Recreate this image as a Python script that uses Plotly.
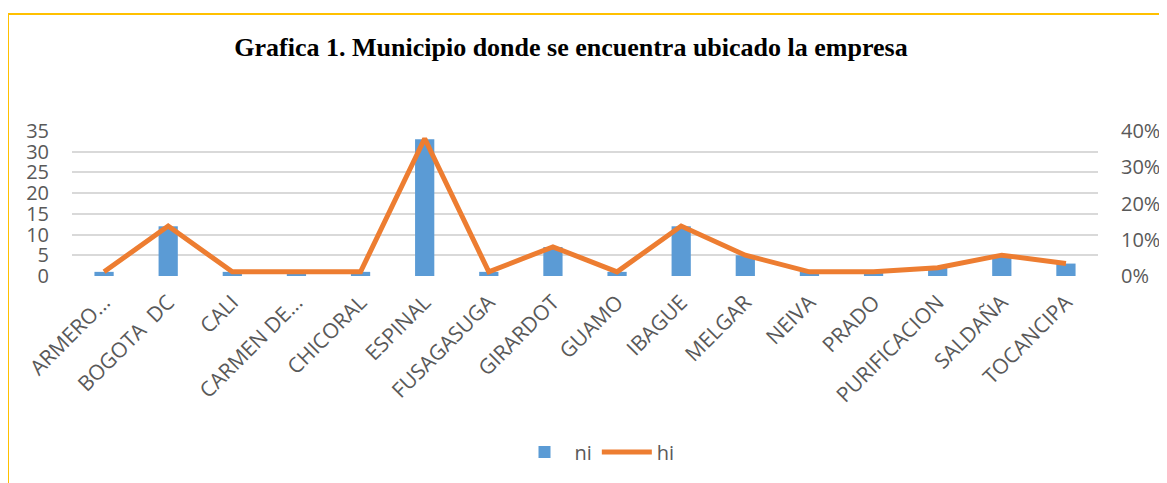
import plotly.graph_objects as go

categories = ["ARMERO...", "BOGOTA\u00a0 DC", "CALI", "CARMEN DE...", "CHICORAL", "ESPINAL",
              "FUSAGASUGA", "GIRARDOT", "GUAMO", "IBAGUE", "MELGAR", "NEIVA", "PRADO",
              "PURIFICACION", "SALDAÑA", "TOCANCIPA"]
ni = [1, 12, 1, 1, 1, 33, 1, 7, 1, 12, 5, 1, 1, 2, 5, 3]
hi = [0.0115, 0.1379, 0.0115, 0.0115, 0.0115, 0.3793, 0.0115, 0.0805, 0.0115, 0.1379,
      0.0575, 0.0115, 0.0115, 0.0230, 0.0575, 0.0345]
left_ticks = [0, 5, 10, 15, 20, 25, 30, 35]
right_ticks = [0, 0.1, 0.2, 0.3, 0.4]
right_labels = ["0%", "10%", "20%", "30%", "40%"]

OFF = 8  # page body margin
W, H = 1167 - OFF, 483 - OFF
L, R, T, B = 72 - OFF, 1098 - OFF, 131 - OFF, 276 - OFF
pw, ph = R - L, B - T

def px(x):
    return (x - OFF - L) / pw

def py(y):
    return (B - (y - OFF)) / ph

tick_font = dict(family="Open Sans", size=20, color="#595959")
xtick_font = dict(family="Open Sans", size=21, color="#595959")

fig = go.Figure()
fig.add_trace(go.Bar(x=categories, y=ni, name="ni", marker=dict(color="#5B9BD5", line=dict(width=0)),
                     yaxis="y"))
fig.add_trace(go.Scatter(x=categories, y=hi, name="hi", mode="lines",
                         line=dict(color="#ED7D31", width=5), yaxis="y2"))

border = dict(color="#FFC000", width=2)

fig.update_layout(
    width=W, height=H,
    template="none",
    paper_bgcolor="white", plot_bgcolor="white",
    margin=dict(l=L, r=W - R, t=T, b=H - B, autoexpand=False),
    bargap=0.7,
    title=dict(text="<b>Grafica 1. Municipio donde se encuentra ubicado la empresa</b>",
               font=dict(family="Liberation Serif", size=26, color="black"),
               x=px(571), xanchor="center", xref="paper", y=1 - (47 - OFF) / H, yanchor="middle",
               yref="container"),
    xaxis=dict(type="category", tickangle=-45, tickfont=xtick_font, showgrid=False,
               showline=False, ticks="", automargin=False, ticklabelstandoff=9),
    yaxis=dict(range=[0, 35], tickvals=left_ticks, tickfont=tick_font, showgrid=True,
               gridcolor="#D9D9D9", gridwidth=1.5, zeroline=False, showline=False,
               ticks="", automargin=False, ticklabelstandoff=22),
    yaxis2=dict(range=[0, 0.4], tickvals=right_ticks, ticktext=right_labels, tickfont=tick_font,
                overlaying="y", side="right", showgrid=False, zeroline=False, showline=False,
                ticks="", automargin=False, ticklabelstandoff=22),
    showlegend=True,
    legend=dict(orientation="h", x=px(597), xanchor="center", y=py(452), yanchor="middle",
                font=dict(family="Open Sans", size=20, color="#595959"), itemwidth=50,
                bgcolor="rgba(0,0,0,0)"),
    shapes=[
        dict(type="line", xref="paper", yref="paper", x0=px(8), x1=px(1200),
             y0=py(14), y1=py(14), line=border, layer="below"),
        dict(type="line", xref="paper", yref="paper", x0=px(8), x1=px(8),
             y0=py(14), y1=py(520), line=border, layer="below"),
    ],
)

fig.write_html("out.html")
